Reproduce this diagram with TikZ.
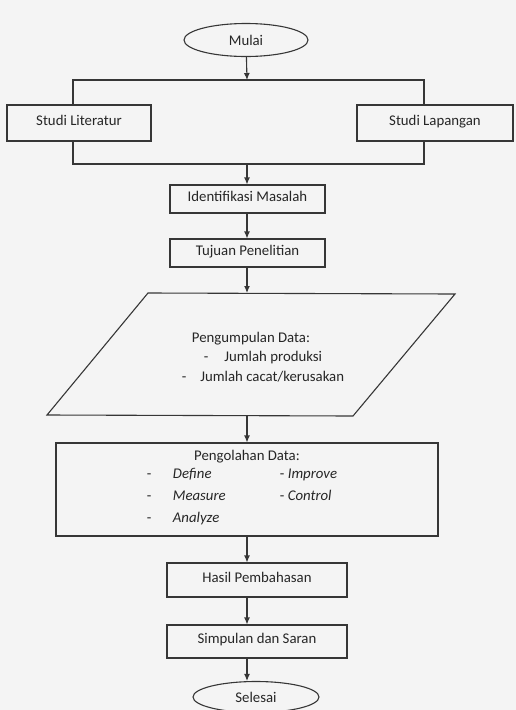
\documentclass[tikz,border=0pt]{standalone}
\usepackage{fontspec}
\setmainfont{Carlito}
\usetikzlibrary{arrows.meta, positioning, shapes.geometric}
\definecolor{cink}{HTML}{262626}
\definecolor{cline}{HTML}{363636}
\definecolor{cpaper}{HTML}{F4F4F4}
\tikzset{
  every picture/.style={line width=1.1pt},
  box/.style={draw=cline, rectangle, align=center, inner sep=0pt, text=cink,
    text height=0.64em, text depth=0.24em},
  oval/.style={draw=cline, ellipse, inner sep=0pt, text=cink},
  plain/.style={align=center, inner sep=0pt, text=cink},
  arrow/.style={-{Latex[length=7pt, width=6pt]}, draw=cline},
  link/.style={draw=cline},
}
\begin{document}
\begin{tikzpicture}[x=1pt, y=-1pt, font=\fontsize{14.8}{18}\selectfont]
  \clip (0,0) rectangle (516,710);
  \fill[cpaper] (0,0) rectangle (516,710);
  \coordinate (axis) at (247,0);
  % start and the two studies
  \node[oval, minimum width=124, minimum height=33] (mulai) at (246,40) {Mulai};
  \coordinate (splitL) at (73,80);
  \coordinate (split) at (247,80);
  \coordinate (splitR) at (424,80);
  \node[box, minimum width=144, minimum height=36] (literatur) at (79,123) {Studi Literatur};
  \node[box, minimum width=156, minimum height=36] (lapangan) at (435,123) {Studi Lapangan};
  \coordinate (joinL) at (73,164);
  \coordinate (join) at (247,164);
  \coordinate (joinR) at (424,164);
  \draw[arrow] (mulai) -- (split);
  \draw[link] (literatur.north -| splitL) -- (splitL) -- (splitR) -- (lapangan.north -| splitR);
  \draw[link] (literatur.south -| joinL) -- (joinL) -- (joinR) -- (lapangan.south -| joinR);
  % main column
  \node[box, minimum width=155, minimum height=28] (identifikasi) at (247.5,199) {Identifikasi Masalah};
  \node[box, minimum width=155, minimum height=28] (tujuan) at (247.5,253) {Tujuan Penelitian};
  % data input (parallelogram)
  \coordinate (kTL) at (148,293);
  \coordinate (kTR) at (455,294);
  \coordinate (kBR) at (353,416);
  \coordinate (kBL) at (47,415);
  \draw[link] (kTL) -- (kTR) -- (kBR) -- (kBL) -- cycle;
  \node[plain, font=\fontsize{14.8}{19}\selectfont] (kumpul) at (251,357)
    {Pengumpulan Data:\\
     \hspace*{24pt}-\hspace{16pt}Jumlah produksi\\[1pt]
     \hspace*{24pt}-\hspace{14pt}Jumlah cacat/kerusakan};
  \node[draw=cline, rectangle, align=center, inner sep=0pt, text=cink, minimum width=382, minimum height=93,
    font=\fontsize{14.8}{22}\selectfont] (olah) at (247,489.5)
    {Pengolahan Data:\\[-1pt]
     \begin{tabular}{@{}p{14pt}p{95pt}l@{\hspace{10pt}}}
       - & \textit{Define} & - \textit{Improve}\\
       - & \textit{Measure} & - \textit{Control}\\
       - & \textit{Analyze} &
     \end{tabular}};
  \node[box, minimum width=180, minimum height=34] (hasil) at (257,580) {Hasil Pembahasan};
  \node[box, minimum width=180, minimum height=33] (simpulan) at (257,641.5) {Simpulan dan Saran};
  \node[oval, minimum width=126, minimum height=31] (selesai) at (256,697) {Selesai};
  \draw[arrow] (join) -- (identifikasi.north -| join);
  \draw[arrow] (identifikasi.south -| axis) -- (tujuan.north -| axis);
  \draw[arrow] (tujuan.south -| axis) -- (axis |- kTL);
  \draw[arrow] (axis |- kBL) -- (olah.north -| axis);
  \draw[arrow] (olah.south -| axis) -- (hasil.north -| axis);
  \draw[arrow] (hasil.south -| axis) -- (simpulan.north -| axis);
  \draw[arrow] (simpulan.south -| axis) -- (selesai.north -| axis);
\end{tikzpicture}
\end{document}
